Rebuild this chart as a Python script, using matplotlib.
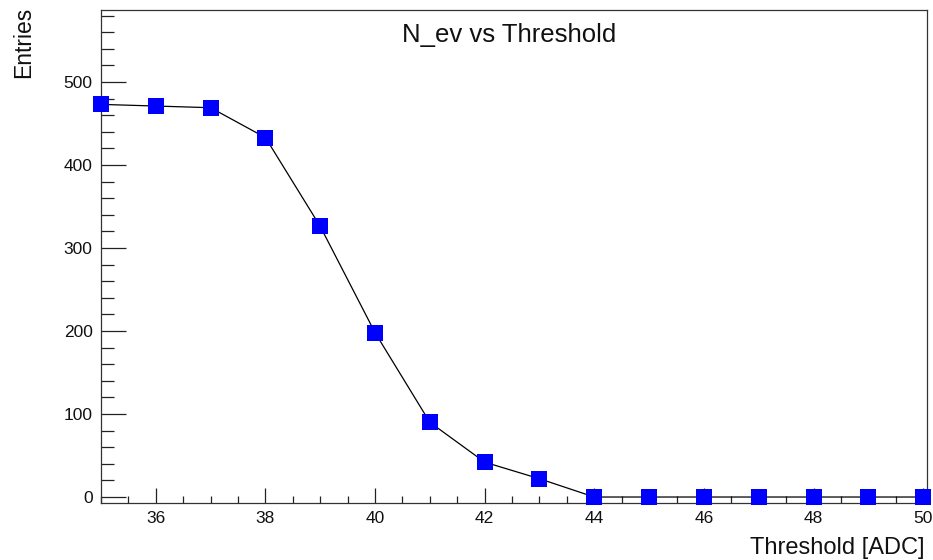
import matplotlib
matplotlib.use("Agg")
import matplotlib.pyplot as plt
from matplotlib.ticker import MultipleLocator

plt.rcParams['font.family'] = ['Liberation Sans', 'DejaVu Sans']

# threshold scan values
threshold = [35, 36, 37, 38, 39, 40, 41, 42, 43, 44, 45, 46, 47, 48, 49, 50]
n_ev = [473, 471, 469, 433, 326, 198, 90, 42, 22, 0, 0, 0, 0, 0, 0, 0]
x_ticks = [36, 38, 40, 42, 44, 46, 48, 50]
y_ticks = [0, 100, 200, 300, 400, 500]

fig = plt.figure(figsize=(9.33, 5.6), dpi=100)
ax = fig.add_axes([101 / 933, 1 - 503 / 560, 826 / 933, 493 / 560])

ax.plot(threshold, n_ev, color='black', lw=0.9, zorder=2)
ax.plot(threshold, n_ev, ls='none', marker='s', ms=12, color='#0000ff',
        markeredgewidth=0, zorder=3, clip_on=False)

ax.set_xlim(35, 50.07)
ax.set_ylim(-7.2, 586.7)
ax.set_xticks(x_ticks)
ax.set_yticks(y_ticks)
ax.xaxis.set_minor_locator(MultipleLocator(0.5))
ax.yaxis.set_minor_locator(MultipleLocator(20))

ax.tick_params(axis='both', which='both', direction='in', colors='#222222',
               labelcolor='#111111', labelsize=12.5, width=0.9)
ax.tick_params(axis='x', which='major', length=11, pad=6)
ax.tick_params(axis='x', which='minor', length=5)
ax.tick_params(axis='y', which='major', length=18, pad=6)
ax.tick_params(axis='y', which='minor', length=9)

for s in ax.spines.values():
    s.set_color('#333333')
    s.set_linewidth(0.9)

fig.text(509 / 933, 1 - 35 / 560, 'N_ev vs Threshold', ha='center', va='center',
         fontsize=18.5, color='#111111')
fig.text(925 / 933, 1 - 548 / 560, 'Threshold [ADC]', ha='right', va='center',
         fontsize=17, color='#111111')
fig.text(24 / 933, 1 - 7 / 560, 'Entries', ha='center', va='top', rotation=90,
         fontsize=16.5, color='#111111')

fig.savefig('out.png', dpi=100)
